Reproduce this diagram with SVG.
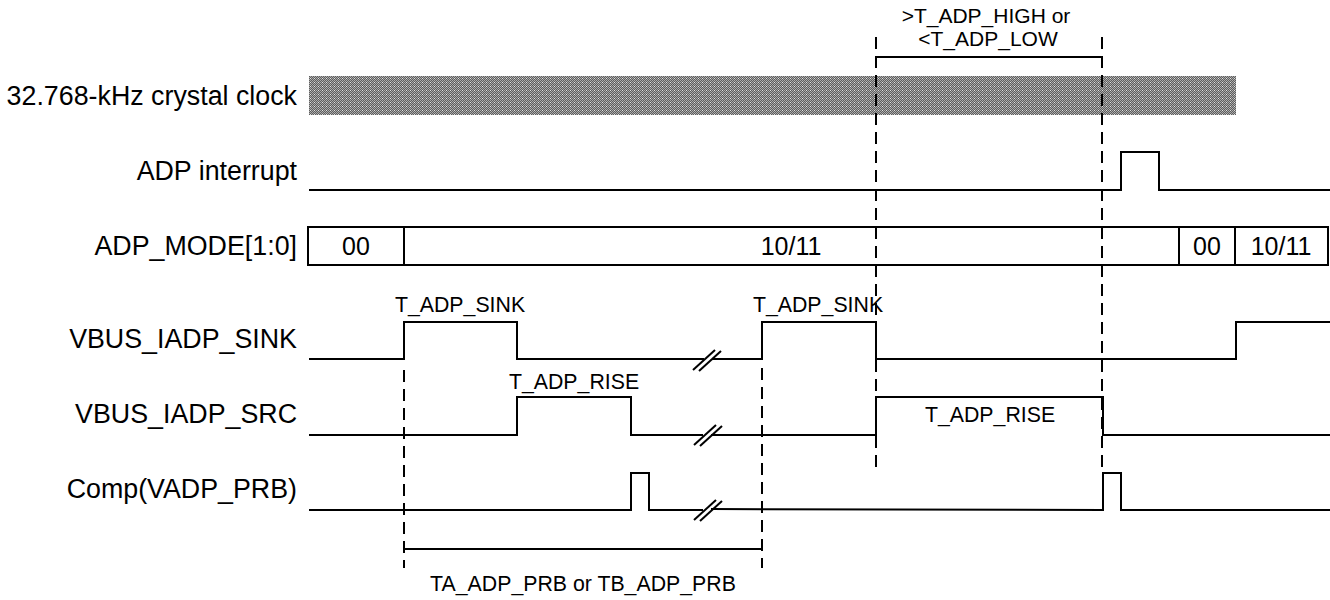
<svg xmlns="http://www.w3.org/2000/svg" width="1330" height="600" viewBox="0 0 1330 600">
<style>
.lbl{font-family:"Liberation Sans",Arial,sans-serif;font-size:26.8px;fill:#000;text-anchor:end}
.val{font-family:"Liberation Sans",Arial,sans-serif;font-size:25px;fill:#000;text-anchor:middle}
.ann{font-family:"Liberation Sans",Arial,sans-serif;font-size:21.3px;fill:#000;text-anchor:middle}
.top{font-family:"Liberation Sans",Arial,sans-serif;font-size:21px;fill:#000;text-anchor:middle}
.sig{fill:none;stroke:#000;stroke-width:2}
.dash{fill:none;stroke:#000;stroke-width:2;stroke-dasharray:12 7}
.brk{fill:none;stroke:#000;stroke-width:2}
</style>
<defs>
<pattern id="clk" width="4" height="4" patternUnits="userSpaceOnUse">
<rect width="4" height="4" fill="#5e5e5e"/>
<rect x="0" y="0" width="1" height="1" fill="#ababab"/>
<rect x="2" y="0" width="1" height="1" fill="#ababab"/>
<rect x="1" y="1" width="1" height="1" fill="#ababab"/>
<rect x="3" y="1" width="1" height="1" fill="#ababab"/>
<rect x="0" y="2" width="1" height="1" fill="#ababab"/>
<rect x="2" y="2" width="1" height="1" fill="#e0e0e0"/>
<rect x="1" y="3" width="1" height="1" fill="#ababab"/>
<rect x="3" y="3" width="1" height="1" fill="#ababab"/>
</pattern>
</defs>
<rect width="1330" height="600" fill="#fff"/>

<g id="clock">
<text class="lbl" x="297" y="105">32.768-kHz crystal clock</text>
<rect x="309" y="76" width="927" height="39" fill="url(#clk)"/>
</g>

<g id="adp-interrupt">
<text class="lbl" x="297" y="180">ADP interrupt</text>
<polyline class="sig" points="309,190 1121,190 1121,152 1159,152 1159,190 1330,190"/>
</g>

<g id="adp-mode">
<text class="lbl" x="297" y="255">ADP_MODE[1:0]</text>
<rect class="sig" x="308" y="227" width="1020" height="38"/>
<line class="sig" x1="404" y1="227" x2="404" y2="265"/>
<line class="sig" x1="1179" y1="227" x2="1179" y2="265"/>
<line class="sig" x1="1235" y1="227" x2="1235" y2="265"/>
<text class="val" x="356" y="255">00</text>
<text class="val" x="791" y="255">10/11</text>
<text class="val" x="1207" y="255">00</text>
<text class="val" x="1281" y="255">10/11</text>
</g>

<g id="vbus-iadp-sink">
<text class="lbl" x="297" y="348">VBUS_IADP_SINK</text>
<polyline class="sig" points="309,359 404,359 404,322 517,322 517,359 704,359"/>
<polyline class="sig" points="712,359 762,359 762,322 876,322 876,359 1236,359 1236,322 1330,322"/>
<line class="brk" x1="693" y1="370" x2="715" y2="350"/>
<line class="brk" x1="699" y1="371" x2="721" y2="351"/>
<text class="ann" x="460" y="312">T_ADP_SINK</text>
<text class="ann" x="818" y="312">T_ADP_SINK</text>
</g>

<g id="vbus-iadp-src">
<text class="lbl" x="297" y="423">VBUS_IADP_SRC</text>
<polyline class="sig" points="309,435 517,435 517,397 631,397 631,435 703,435"/>
<polyline class="sig" points="711,435 876,435 876,397 1103,397 1103,435 1330,435"/>
<line class="brk" x1="694" y1="445" x2="716" y2="425"/>
<line class="brk" x1="700" y1="446" x2="722" y2="426"/>
<text class="ann" x="574" y="389">T_ADP_RISE</text>
<text class="ann" x="990" y="422">T_ADP_RISE</text>
</g>

<g id="comp-vadp-prb">
<text class="lbl" x="297" y="498">Comp(VADP_PRB)</text>
<polyline class="sig" points="309,510 631,510 631,473 649,473 649,510 703,510"/>
<polyline class="sig" points="711,509 1103,510 1103,473 1121,473 1121,510 1330,510"/>
<line class="brk" x1="694" y1="520" x2="716" y2="500"/>
<line class="brk" x1="700" y1="521" x2="722" y2="501"/>
</g>

<g id="connectors">
<line class="dash" x1="404" y1="370" x2="404" y2="568"/>
<line class="dash" x1="762" y1="368" x2="762" y2="568"/>
<line class="sig" x1="404" y1="549" x2="762" y2="549"/>
<line class="dash" x1="876" y1="37" x2="876" y2="470"/>
<line class="dash" x1="1102" y1="37" x2="1102" y2="470"/>
<line class="sig" x1="876" y1="57" x2="1102" y2="57"/>
</g>

<g id="annotations">
<text class="top" x="986" y="23">&gt;T_ADP_HIGH or</text>
<text class="top" x="988" y="46">&lt;T_ADP_LOW</text>
<text class="ann" x="583" y="591">TA_ADP_PRB or TB_ADP_PRB</text>
</g>
</svg>
